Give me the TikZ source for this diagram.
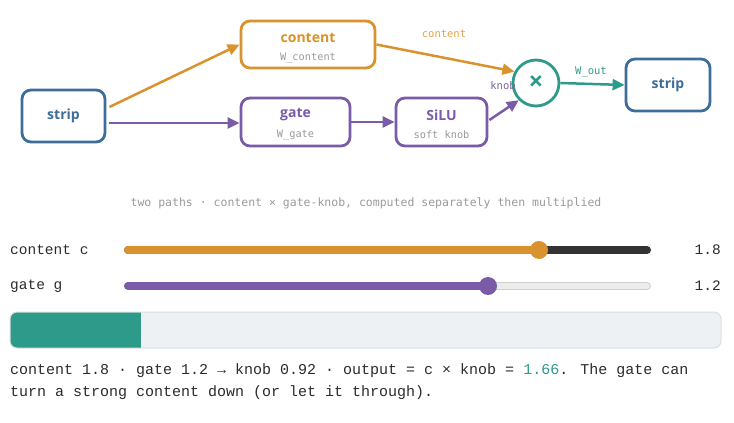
\documentclass[tikz,border=0pt]{standalone}
\usepackage{fontspec}
\setmainfont{Liberation Mono}
\newfontfamily\uisans{Open Sans}
\newfontfamily\smono{DejaVu Sans Mono}
\usetikzlibrary{arrows.meta,calc}
\definecolor{cblue}{HTML}{3D6D99}
\definecolor{corange}{HTML}{DA922E}
\definecolor{cpurple}{HTML}{7A5BA8}
\definecolor{cteal}{HTML}{2E9A8A}
\definecolor{cgray}{HTML}{9A9A9A}
\definecolor{cdark}{HTML}{333333}
\definecolor{ctext}{HTML}{2B2B2B}
\definecolor{clight}{HTML}{ECECEC}
\definecolor{clightb}{HTML}{CFCFCF}
\definecolor{cbarbg}{HTML}{EEF1F4}
\definecolor{cbarbd}{HTML}{D9DEE3}
\begin{document}
\begin{tikzpicture}[x=1pt,y=-1pt,
  box/.style={draw,line width=2.8pt,rounded corners=9pt,fill=white,inner sep=0pt},
  ttl/.style={font=\uisans\bfseries\fontsize{14}{16}\selectfont,inner sep=0pt},
  sub/.style={font=\smono\fontsize{10.3}{12}\selectfont,text=cgray,inner sep=0pt},
  elab/.style={font=\smono\fontsize{10.5}{12}\selectfont,inner sep=0pt},
  arr/.style={line width=2.5pt,-{Triangle[length=12pt,width=11pt]}},
  slab/.style={font=\fontsize{14.5}{16}\selectfont,text=ctext,inner sep=0pt},
]
\useasboundingbox (0,0) rectangle (734,423);
% nodes
\node[box,draw=cblue,minimum width=83pt,minimum height=52pt] (s1) at (63.5,116) {};
\node[ttl,text=cblue] (s1t) at (63.5,116) {strip};
\node[box,draw=corange,minimum width=134pt,minimum height=47pt] (cont) at (308,44.5) {};
\node[ttl,text=corange] (contt) at (308,38) {content};
\node[sub] (conts) at (308,58) {W\_content};
\node[box,draw=cpurple,minimum width=109pt,minimum height=48pt] (gate) at (295.5,122) {};
\node[ttl,text=cpurple] (gatet) at (295.5,115) {gate};
\node[sub] (gates) at (295.5,135) {W\_gate};
\node[box,draw=cpurple,minimum width=91pt,minimum height=48pt] (silu) at (441.5,122) {};
\node[ttl,text=cpurple] (silut) at (441.5,115) {SiLU};
\node[sub] (silus) at (441.5,135) {soft knob};
\node[draw=cteal,line width=2.8pt,circle,fill=white,minimum size=46pt,inner sep=0pt] (mul) at (536,83) {};
\node[text=cteal,font=\uisans\bfseries\fontsize{26}{26}\selectfont,inner sep=0pt] (mult) at (536,83) {×};
\node[box,draw=cblue,minimum width=84pt,minimum height=52pt] (s2) at (668,85) {};
\node[ttl,text=cblue] (s2t) at (668,85) {strip};
% connectors
\draw[arr,corange] ($(s1.east)+(3,-9)$) -- (cont.west);
\draw[arr,cpurple] ($(s1.east)+(3,7)$) -- ($(gate.west)+(0,1)$);
\draw[arr,cpurple] (gate.east) -- (silu.west);
\draw[arr,cpurple] ($(silu.east)+(1,-2)$) -- (mul.225);
\draw[arr,corange] (cont.east) -- (mul.152);
\draw[arr,cteal] (mul.east) -- (s2.west);
\node[elab,text=corange!85!white] (lc) at (444,34) {content};
\node[elab,text=cpurple!80!gray] (lk) at (503,86) {knob};
\node[elab,text=cteal] (lw) at (591,72) {W\_out};
% caption
\node[font=\smono\fontsize{11.5}{13}\selectfont,text=cgray,inner sep=0pt] (cap) at (366,203) {two paths · content × gate-knob, computed separately then multiplied};
% slider 1
\node[slab,anchor=west] (l1) at (10,250) {content c};
\draw[line width=8pt,line cap=round,cdark] (128,250) -- (647,250);
\draw[line width=8pt,line cap=round,corange] (128,250) -- (539,250);
\fill[corange] (539,250) circle (9pt);
\node[slab,anchor=east] (v1) at (721,250) {1.8};
% slider 2
\node[slab,anchor=west] (l2) at (10,286) {gate g};
\draw[line width=8pt,line cap=round,clightb] (128,286) -- (647,286);
\draw[line width=6pt,line cap=round,clight] (128,286) -- (647,286);
\draw[line width=8pt,line cap=round,cpurple] (128,286) -- (488,286);
\fill[cpurple] (488,286) circle (9pt);
\node[slab,anchor=east] (v2) at (721,286) {1.2};
% bar
\begin{scope}
\clip[rounded corners=7pt] (10,312) rectangle (721,348);
\fill[cbarbg] (10,312) rectangle (721,348);
\fill[cteal] (10,312) rectangle (141,348);
\end{scope}
\draw[cbarbd,line width=1pt,rounded corners=7pt] (10,312) rectangle (721,348);
% bottom text
\node[font=\fontsize{15}{22}\selectfont,text=ctext,inner sep=0pt,anchor=west] (t1) at (10,371) {content 1.8 · gate 1.2 → knob 0.92 · output = c × knob = \textcolor{cteal}{1.66}. The gate can};
\node[font=\fontsize{15}{22}\selectfont,text=ctext,inner sep=0pt,anchor=west] (t2) at (10,393) {turn a strong content down (or let it through).};
\end{tikzpicture}
\end{document}
